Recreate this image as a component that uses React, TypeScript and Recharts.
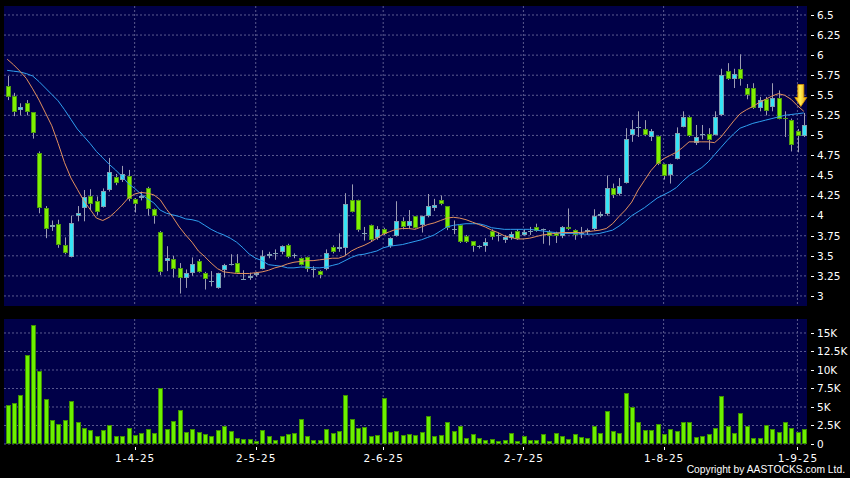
import React from "react";
import {
  ComposedChart,
  Bar,
  Line,
  XAxis,
  YAxis,
  CartesianGrid,
  ReferenceDot,
} from "recharts";

// daily candles, 4 Mar 2025 .. 3 Sep 2025
const opens = [
  5.61, 5.49, 5.32, 5.4, 5.29, 4.78, 4.1, 3.86, 3.9, 3.63,
  3.49, 4.0, 4.1, 4.25, 4.18, 4.11, 4.32, 4.48, 4.44, 4.49,
  4.21, 4.22, 4.34, 4.08, 3.8, 3.43, 3.46, 3.35, 3.22, 3.29,
  3.44, 3.29, 3.18, 3.1, 3.32, 3.39, 3.41, 3.21, 3.23, 3.26,
  3.34, 3.5, 3.53, 3.55, 3.64, 3.5, 3.47, 3.48, 3.33, 3.31,
  3.33, 3.61, 3.58, 3.6, 4.19, 4.19, 3.78, 3.88, 3.72, 3.83,
  3.62, 3.75, 3.93, 3.87, 3.99, 3.88, 3.99, 4.09, 4.19, 4.12,
  3.83, 3.88, 3.75, 3.68, 3.61, 3.62, 3.81, 3.75, 3.7, 3.72,
  3.81, 3.76, 3.8, 3.86, 3.82, 3.8, 3.79, 3.75, 3.86, 3.82,
  3.79, 3.8, 3.83, 4.0, 4.02, 4.35, 4.27, 4.41, 5.01, 5.09,
  5.08, 4.98, 4.99, 4.64, 4.51, 4.71, 5.11, 5.23, 4.9, 5.01,
  5.02, 5.01, 5.25, 5.8, 5.7, 5.83, 5.59, 5.59, 5.34, 5.45,
  5.35, 5.46, 5.22, 5.19, 5.06, 4.99,
];
const highs = [
  5.74, 5.53, 5.4, 5.44, 5.29, 4.8, 4.12, 3.94, 3.95, 3.73,
  4.0, 4.12, 4.32, 4.33, 4.24, 4.34, 4.72, 4.52, 4.62, 4.57,
  4.22, 4.3, 4.36, 4.09, 3.81, 3.62, 3.5, 3.41, 3.33, 3.48,
  3.46, 3.3, 3.31, 3.29, 3.4, 3.52, 3.52, 3.32, 3.29, 3.3,
  3.57, 3.55, 3.58, 3.63, 3.65, 3.53, 3.48, 3.49, 3.37, 3.32,
  3.58, 3.63, 3.78, 4.28, 4.39, 4.2, 3.86, 3.89, 3.87, 3.85,
  3.73, 4.18, 3.98, 4.07, 3.99, 4.0, 4.27, 4.21, 4.25, 4.12,
  3.94, 3.88, 3.76, 3.68, 3.63, 3.72, 3.83, 3.79, 3.76, 3.8,
  3.83, 3.83, 3.86, 3.9, 3.84, 3.82, 3.8, 3.87, 4.09, 3.83,
  3.86, 3.84, 4.08, 4.05, 4.5, 4.4, 4.47, 5.09, 5.19, 5.3,
  5.19, 5.08, 5.0, 4.65, 4.65, 5.1, 5.3, 5.24, 5.13, 5.13,
  5.09, 5.3, 5.83, 5.9, 5.83, 6.01, 5.64, 5.65, 5.48, 5.48,
  5.65, 5.56, 5.3, 5.21, 5.08, 5.28,
];
const lows = [
  5.44, 5.24, 5.25, 5.25, 4.96, 4.03, 3.72, 3.81, 3.6, 3.52,
  3.48, 3.93, 3.93, 4.07, 4.01, 4.1, 4.3, 4.38, 4.42, 4.18,
  4.04, 4.19, 4.0, 3.9, 3.26, 3.31, 3.23, 3.03, 3.1, 3.25,
  3.29, 3.08, 3.12, 3.09, 3.23, 3.38, 3.28, 3.2, 3.2, 3.24,
  3.33, 3.47, 3.45, 3.52, 3.47, 3.47, 3.38, 3.3, 3.23, 3.22,
  3.32, 3.53, 3.55, 3.51, 4.04, 3.8, 3.69, 3.68, 3.7, 3.76,
  3.6, 3.74, 3.83, 3.84, 3.84, 3.79, 3.98, 4.06, 4.13, 3.82,
  3.77, 3.66, 3.66, 3.55, 3.59, 3.55, 3.7, 3.68, 3.66, 3.7,
  3.7, 3.75, 3.76, 3.8, 3.65, 3.63, 3.66, 3.72, 3.82, 3.7,
  3.72, 3.76, 3.82, 3.98, 4.0, 4.22, 4.25, 4.4, 4.92, 4.98,
  4.99, 4.93, 4.63, 4.45, 4.4, 4.7, 5.1, 4.98, 4.88, 4.95,
  4.82, 5.0, 5.24, 5.69, 5.59, 5.62, 5.45, 5.33, 5.3, 5.25,
  5.3, 5.2, 4.98, 4.8, 4.79, 4.98,
];
const closes = [
  5.48, 5.29, 5.35, 5.29, 5.03, 4.1, 3.84, 3.89, 3.64, 3.53,
  3.91, 4.03, 4.23, 4.15, 4.04, 4.31, 4.55, 4.41, 4.52, 4.21,
  4.15, 4.25, 4.08, 4.0, 3.3, 3.47, 3.34, 3.22, 3.29, 3.4,
  3.3, 3.21, 3.19, 3.28, 3.39, 3.4, 3.29, 3.21, 3.25, 3.28,
  3.5, 3.52, 3.53, 3.62, 3.49, 3.51, 3.39, 3.33, 3.33, 3.26,
  3.54, 3.55, 3.61, 4.15, 4.05, 3.82, 3.79, 3.7, 3.83, 3.77,
  3.72, 3.94, 3.86, 3.94, 3.85, 3.99, 4.12, 4.13, 4.14, 3.85,
  3.84, 3.67, 3.67, 3.62, 3.62, 3.67, 3.74, 3.76, 3.73, 3.77,
  3.71, 3.8, 3.81, 3.81, 3.83, 3.75, 3.75, 3.86, 3.83, 3.76,
  3.79, 3.82, 4.0, 4.02, 4.35, 4.26, 4.37, 4.96, 5.08, 5.1,
  5.0, 5.05, 4.64, 4.5, 4.64, 5.03, 5.23, 4.99, 4.98, 5.02,
  4.94, 5.23, 5.75, 5.7, 5.76, 5.7, 5.5, 5.34, 5.44, 5.3,
  5.46, 5.21, 5.2, 4.88, 4.99, 5.13,
];
// 10-day (orange) and 20-day (blue) moving averages
const ma10 = [
  5.95, 5.88, 5.8, 5.71, 5.58, 5.44, 5.28, 5.12, 4.9, 4.66,
  4.47, 4.33, 4.19, 4.08, 3.97, 3.94, 3.98, 4.05, 4.13, 4.22,
  4.27, 4.29, 4.28, 4.26, 4.2, 4.08, 3.98, 3.86, 3.76, 3.67,
  3.56, 3.49, 3.41, 3.34, 3.3, 3.29, 3.28, 3.28, 3.28, 3.29,
  3.3, 3.32, 3.35, 3.37, 3.4, 3.42, 3.43, 3.44, 3.44, 3.45,
  3.46, 3.47, 3.47, 3.5, 3.56, 3.6, 3.63, 3.67, 3.72, 3.77,
  3.8, 3.83, 3.84, 3.84, 3.83, 3.86, 3.89, 3.91, 3.94, 3.97,
  3.98, 3.97, 3.95, 3.92, 3.89, 3.86, 3.82, 3.79, 3.75, 3.73,
  3.71, 3.71, 3.72, 3.74, 3.76, 3.77, 3.78, 3.79, 3.79, 3.79,
  3.79, 3.8, 3.81, 3.82, 3.84, 3.9, 3.99, 4.07, 4.17, 4.32,
  4.44, 4.56, 4.65, 4.71, 4.75, 4.79, 4.85, 4.92, 4.92, 4.92,
  4.92, 4.91, 4.98, 5.08, 5.18, 5.27, 5.32, 5.36, 5.41, 5.45,
  5.49, 5.52, 5.5, 5.45, 5.37, 5.3,
];
const ma20 = [
  5.81, 5.8, 5.79, 5.77, 5.74, 5.67, 5.59, 5.51, 5.43, 5.32,
  5.2, 5.08, 4.99, 4.9, 4.8, 4.72, 4.64, 4.57, 4.49, 4.4,
  4.34, 4.27, 4.21, 4.16, 4.07, 4.03, 4.01, 3.99, 3.96, 3.95,
  3.93, 3.88, 3.83, 3.79, 3.76, 3.72, 3.67, 3.6, 3.52, 3.47,
  3.44, 3.39, 3.38, 3.37, 3.35, 3.35, 3.36, 3.36, 3.35, 3.35,
  3.36, 3.38, 3.4, 3.44, 3.48, 3.51, 3.52, 3.54, 3.56, 3.6,
  3.62, 3.63, 3.64, 3.66, 3.68, 3.7, 3.73, 3.76, 3.81, 3.86,
  3.88, 3.89, 3.9, 3.9, 3.9, 3.88, 3.85, 3.84, 3.83, 3.83,
  3.83, 3.83, 3.83, 3.82, 3.81, 3.8, 3.79, 3.78, 3.78, 3.78,
  3.77, 3.77, 3.77, 3.78, 3.8, 3.82, 3.87, 3.93, 4.0, 4.05,
  4.1, 4.16, 4.22, 4.26, 4.3, 4.35, 4.43, 4.5, 4.55, 4.6,
  4.67, 4.76, 4.85, 4.94, 5.02, 5.09, 5.12, 5.15, 5.17, 5.19,
  5.21, 5.23, 5.25, 5.26, 5.27, 5.28,
];
const volumes = [
  5240, 5560, 6680, 12000, 16100, 9850, 6140, 3200, 2760, 3200,
  5830, 2980, 2170, 1850, 1040, 1940, 2530, 1040, 1130, 2210,
  1220, 1490, 2030, 1490, 7500, 1990, 3120, 4650, 1670, 1990,
  1580, 1310, 1130, 1850, 2480, 1760, 770, 680, 680, 410,
  1850, 1130, 590, 1040, 1310, 1450, 3340, 1130, 590, 500,
  2080, 1490, 1720, 6640, 3340, 2210, 2260, 1080, 1260, 6280,
  1670, 1720, 1260, 1400, 1170, 1580, 3720, 1080, 1260, 2980,
  1810, 2390, 770, 1360, 770, 590, 720, 450, 540, 1450,
  450, 1080, 500, 500, 1310, 450, 1490, 1040, 680, 1400,
  990, 860, 2390, 1490, 4520, 1720, 1490, 6870, 5060, 3030,
  1900, 1900, 2710, 1360, 1990, 1810, 3030, 3030, 900, 1080,
  1360, 2210, 6460, 2440, 1540, 4250, 2440, 860, 860, 2530,
  1990, 1670, 3030, 2210, 1670, 2080,
];

const dateTickIndex = [20, 39, 59, 81, 103, 124];
const dateTickLabels = ["1-4-25", "2-5-25", "2-6-25", "2-7-25", "1-8-25", "1-9-25"];
const priceTicks = [3, 3.25, 3.5, 3.75, 4, 4.25, 4.5, 4.75, 5, 5.25, 5.5, 5.75, 6, 6.25, 6.5];
const volumeTicks = [0, 2500, 5000, 7500, 10000, 12500, 15000];
const arrowPrice = 5.36;

const candles = opens.map((o, i) => ({
  i,
  o,
  h: highs[i],
  l: lows[i],
  c: closes[i],
  ma10: ma10[i],
  ma20: ma20[i],
  vol: volumes[i],
}));
const lastIndex = candles.length - 1;

const FONT = "'DejaVu Sans', Verdana, sans-serif";
const PLOT_BG = "#000048";
const GRID = "#5a5a8e";
const UP_FILL = "#35e4f6";
const UP_EDGE = "#7f9fb2";
const DOWN_FILL = "#7ff000";
const DOWN_EDGE = "#4f9a12";
const WICK = "#9c9cb2";

function Candle(props: any) {
  const { x, y, width, height, payload } = props;
  if (!payload || !Number.isFinite(y) || !Number.isFinite(height)) return null;
  const { o, h, l, c } = payload;
  const k = h > l ? height / (h - l) : 0;
  const py = (p: number) => y + (h - p) * k;
  const mid = Math.round(x + width / 2);
  const top = Math.round(py(Math.max(o, c)));
  const bot = Math.round(py(Math.min(o, c)));
  const up = c > o;
  let body;
  if (c === o) {
    body = <line x1={mid - 2} x2={mid + 3} y1={top + 0.5} y2={top + 0.5} stroke={UP_EDGE} />;
  } else if (bot - top <= 2) {
    body = <rect x={mid - 2} y={top} width={5} height={Math.max(bot - top, 1)} fill={up ? UP_EDGE : DOWN_EDGE} />;
  } else {
    body = (
      <rect
        x={mid - 1.5}
        y={top + 0.5}
        width={4}
        height={bot - top - 1}
        fill={up ? UP_FILL : DOWN_FILL}
        stroke={up ? UP_EDGE : DOWN_EDGE}
      />
    );
  }
  return (
    <g>
      <line x1={mid + 0.5} x2={mid + 0.5} y1={y} y2={y + height} stroke={WICK} />
      {body}
    </g>
  );
}

function VolBar(props: any) {
  const { x, y, width, height } = props;
  if (!Number.isFinite(y) || !Number.isFinite(height) || height <= 0) return null;
  const mid = Math.round(x + width / 2);
  const top = Math.round(y);
  const bot = Math.round(y + height);
  return (
    <rect
      x={mid - 1.5}
      y={top + 0.5}
      width={4}
      height={Math.max(bot - top - 1, 0)}
      fill="#6cf000"
      stroke="#3e9000"
    />
  );
}

function Arrow(props: any) {
  const { cx, cy } = props;
  const tx = cx - 3;
  return (
    <g>
      <defs>
        <linearGradient id="arrowGold" x1="0" y1="0" x2="1" y2="0">
          <stop offset="0%" stopColor="#f2b000" />
          <stop offset="45%" stopColor="#ffee55" />
          <stop offset="100%" stopColor="#e89a00" />
        </linearGradient>
      </defs>
      <path
        d={`M${tx - 3} ${cy - 22} H${tx + 3} V${cy - 9} H${tx + 6} L${tx} ${cy} L${tx - 6} ${cy - 9} H${tx - 3} Z`}
        fill="url(#arrowGold)"
        stroke="#d89000"
        strokeWidth={0.8}
      />
    </g>
  );
}

// dashed grid line drawn by the grid itself
const gridLine = (p: any) => (
  <line
    key={p.key}
    x1={p.x1}
    y1={p.y1}
    x2={p.x2}
    y2={p.y2}
    stroke={GRID}
    strokeDasharray="2 2"
    fill="none"
  />
);

const noTick = () => <g />;

const rightTick = (fmt: (v: number) => string) => (props: any) => {
  const { x, y, payload } = props;
  const yy = Math.round(y) + 0.5;
  return (
    <g>
      <line x1={x + 4} x2={x + 7} y1={yy} y2={yy} stroke="#ffffff" />
      <text x={x + 10} y={y} dy="0.36em" fill="#ffffff" fontSize={10.5} fontFamily={FONT}>
        {fmt(payload.value)}
      </text>
    </g>
  );
};

const dateTick = (props: any) => {
  const { x, y, payload } = props;
  const k = dateTickIndex.indexOf(payload.value);
  const xx = Math.round(x) + 0.5;
  return (
    <g>
      <line x1={xx} x2={xx} y1={y + 3} y2={y + 6} stroke="#ffffff" />
      <text
        x={x + 0.5}
        y={y + 14}
        dy="0.36em"
        textAnchor="middle"
        fill="#ffffff"
        fontSize={10.5}
        letterSpacing={1}
        fontFamily={FONT}
      >
        {k >= 0 ? dateTickLabels[k] : ""}
      </text>
    </g>
  );
};

const fmtPrice = (v: number) => String(v);
const fmtVol = (v: number) => (v === 0 ? "0" : `${v / 1000}K`);

export default function App() {
  return (
    <div
      style={{
        position: "fixed",
        left: 0,
        top: 0,
        width: 850,
        height: 478,
        background: "#000",
        overflow: "hidden",
      }}
    >
      <div style={{ position: "absolute", left: 0, top: 0 }}>
        <ComposedChart
          width={850}
          height={310}
          data={candles}
          margin={{ top: 6, right: 0, bottom: 4, left: 4 }}
        >
          <CartesianGrid
            fill={PLOT_BG}
            fillOpacity={1}
            stroke="none"
            syncWithTicks
            horizontal={gridLine}
            vertical={gridLine}
          />
          <XAxis
            dataKey="i"
            ticks={dateTickIndex}
            interval={0}
            height={0}
            tick={noTick}
            axisLine={false}
            tickLine={false}
          />
          <YAxis
            orientation="right"
            width={43}
            domain={[2.875, 6.612]}
            allowDataOverflow
            ticks={priceTicks}
            interval={0}
            axisLine={false}
            tickLine={false}
            tickSize={0}
            tickMargin={0}
            tick={rightTick(fmtPrice)}
          />
          <Bar
            dataKey={(d: any) => [d.l, d.h]}
            barSize={5}
            shape={Candle}
            isAnimationActive={false}
          />
          <Line
            dataKey="ma20"
            stroke="#2f9ff0"
            strokeWidth={1}
            dot={false}
            activeDot={false}
            isAnimationActive={false}
          />
          <Line
            dataKey="ma10"
            stroke="#e2905e"
            strokeWidth={1}
            dot={false}
            activeDot={false}
            isAnimationActive={false}
          />
          <ReferenceDot x={lastIndex} y={arrowPrice} r={0} shape={Arrow} ifOverflow="visible" />
        </ComposedChart>
      </div>
      <div style={{ position: "absolute", left: 0, top: 310 }}>
        <ComposedChart
          width={850}
          height={168}
          data={candles}
          margin={{ top: 9, right: 0, bottom: 0, left: 4 }}
        >
          <CartesianGrid
            fill={PLOT_BG}
            fillOpacity={1}
            stroke="none"
            syncWithTicks
            horizontal={gridLine}
            vertical={gridLine}
          />
          <XAxis
            dataKey="i"
            ticks={dateTickIndex}
            interval={0}
            height={34}
            axisLine={false}
            tickLine={false}
            tickSize={0}
            tickMargin={0}
            tick={dateTick}
          />
          <YAxis
            orientation="right"
            width={43}
            domain={[0, 16890]}
            allowDataOverflow
            ticks={volumeTicks}
            interval={0}
            axisLine={false}
            tickLine={false}
            tickSize={0}
            tickMargin={0}
            tick={rightTick(fmtVol)}
          />
          <Bar dataKey="vol" barSize={5} shape={VolBar} isAnimationActive={false} />
        </ComposedChart>
      </div>
      <div
        style={{
          position: "absolute",
          right: 5,
          top: 464,
          color: "#ffffff",
          fontFamily: "'Liberation Sans', Arial, sans-serif",
          fontSize: 10.3,
          lineHeight: "12px",
          whiteSpace: "nowrap",
        }}
      >
        Copyright by AASTOCKS.com Ltd.
      </div>
    </div>
  );
}
